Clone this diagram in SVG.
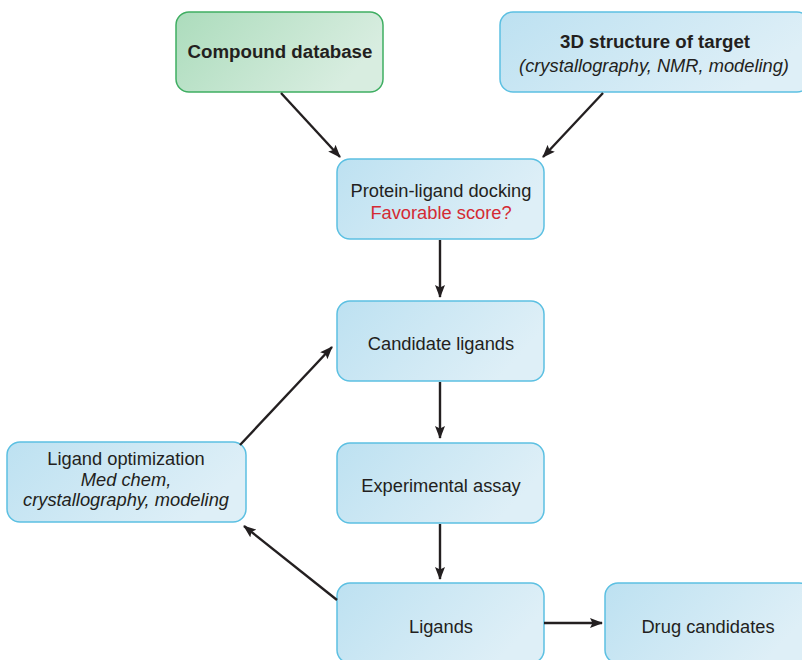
<svg xmlns="http://www.w3.org/2000/svg" width="802" height="660" viewBox="0 0 802 660">
<defs>
<linearGradient id="gb" x1="0" y1="0" x2="1" y2="0.35">
<stop offset="0" stop-color="#bde1f1"/>
<stop offset="1" stop-color="#deeff7"/>
</linearGradient>
<linearGradient id="gg" x1="0" y1="0" x2="1" y2="0.35">
<stop offset="0" stop-color="#acdcbc"/>
<stop offset="1" stop-color="#d8ede0"/>
</linearGradient>
<marker id="ah" viewBox="0 0 13 10" refX="12" refY="5" markerWidth="13" markerHeight="10" markerUnits="userSpaceOnUse" orient="auto">
<path d="M0,0 L13,5 L0,10 L2.5,5 Z" fill="#231f20"/>
</marker>
<style>
.b{fill:url(#gb);stroke:#5cc0e2;stroke-width:1.5}
.g{fill:url(#gg);stroke:#3fae62;stroke-width:1.5}
text{font-family:"Liberation Sans",Arial,sans-serif;font-size:18.3px;fill:#231f20;text-anchor:middle}
.bold{font-weight:bold;font-size:18.7px}
.it{font-style:italic}
.red{fill:#d42a33}
.c line{stroke:#231f20;stroke-width:2.4;marker-end:url(#ah)}
</style>
</defs>
<g id="compound"><rect class="g" x="176" y="12" width="207" height="80" rx="13"/><text class="bold" x="280" y="58">Compound database</text></g>
<g id="structure"><rect class="b" x="500" y="12" width="310" height="80" rx="13"/><text class="bold" x="655" y="48">3D structure of target</text><text class="it" x="654" y="72">(crystallography, NMR, modeling)</text></g>
<g id="docking"><rect class="b" x="337" y="159" width="207" height="80" rx="13"/><text x="441" y="197">Protein-ligand docking</text><text class="red" x="441" y="219">Favorable score?</text></g>
<g id="candidate"><rect class="b" x="337" y="301" width="207" height="80" rx="13"/><text x="441" y="350">Candidate ligands</text></g>
<g id="assay"><rect class="b" x="337" y="443" width="207" height="80" rx="13"/><text x="441" y="492">Experimental assay</text></g>
<g id="ligands"><rect class="b" x="337" y="583" width="207" height="80" rx="13"/><text x="441" y="633">Ligands</text></g>
<g id="drug"><rect class="b" x="605" y="583" width="207" height="80" rx="13"/><text x="708" y="633">Drug candidates</text></g>
<g id="optimization"><rect class="b" x="7" y="442" width="239" height="80" rx="13"/><text x="126" y="465">Ligand optimization</text><text class="it" x="126" y="486">Med chem,</text><text class="it" x="126" y="506">crystallography, modeling</text></g>
<g class="c" id="connectors">
<line x1="281" y1="93" x2="340" y2="157"/>
<line x1="603" y1="93" x2="543" y2="157"/>
<line x1="440" y1="240" x2="440" y2="297"/>
<line x1="440" y1="382" x2="440" y2="438"/>
<line x1="440" y1="524" x2="440" y2="579"/>
<line x1="544" y1="623" x2="602" y2="623"/>
<line x1="337" y1="600" x2="244" y2="526"/>
<line x1="240" y1="445" x2="332" y2="347"/>
</g>
</svg>
